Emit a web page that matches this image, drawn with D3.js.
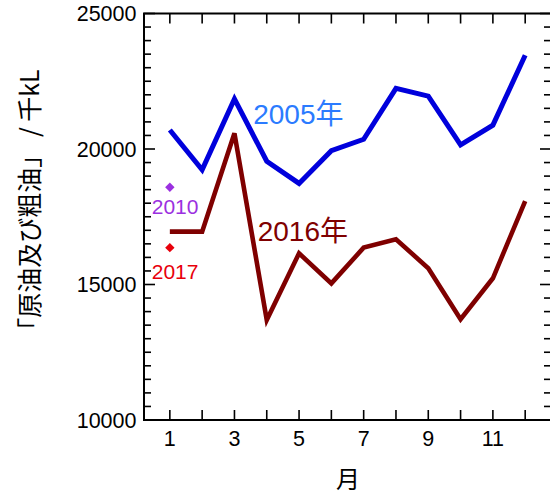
<!DOCTYPE html>
<html>
<head>
<meta charset="utf-8">
<script src="https://cdn.jsdelivr.net/npm/d3@7"></script>
<style>
  html, body { margin: 0; padding: 0; background: #fff; }
  svg { display: block; }
  text { font-family: "Liberation Sans", Arial, "Noto Sans CJK JP", sans-serif; }
</style>
</head>
<body>
<svg id="chart" width="550" height="495"></svg>
<script>
// Monthly crude oil volumes (thousand kL)
const months = [1, 2, 3, 4, 5, 6, 7, 8, 9, 10, 11, 12];
const values2005 = [20700, 19230, 21850, 19550, 18730, 19940, 20360, 22240, 21950, 20150, 20880, 23460];
const values2016 = [16950, 16950, 20580, 13690, 16150, 15040, 16360, 16670, 15600, 13720, 15230, 18080];
// Single January points for other years
const singleYears = ["2010", "2017"];
const singleValues = [18590, 16360];
const xTickLabels = [1, 3, 5, 7, 9, 11];
const yTickLabels = [10000, 15000, 20000, 25000];

const svg = d3.select("#chart");
const plotLeft = 144, plotRight = 552, plotTop = 13.5, plotBottom = 420;

const x = d3.scaleLinear().domain([0.2, 12.83]).range([plotLeft, plotRight]);
const y = d3.scaleLinear().domain([10000, 25000]).range([plotBottom, plotTop]);

const fontTick = "21.5px";

// Frame
svg.append("rect")
  .attr("x", plotLeft).attr("y", plotTop)
  .attr("width", plotRight - plotLeft).attr("height", plotBottom - plotTop)
  .attr("fill", "none").attr("stroke", "#000").attr("stroke-width", 2);

// Inward ticks
const tickG = svg.append("g").attr("stroke", "#000").attr("stroke-width", 1.6);
const minorY = d3.range(10000, 25001, 500);
minorY.forEach(v => {
  const major = v % 5000 === 0;
  const len = major ? 11 : 7;
  tickG.append("line").attr("x1", plotLeft).attr("x2", plotLeft + len).attr("y1", y(v)).attr("y2", y(v));
  tickG.append("line").attr("x1", plotRight).attr("x2", plotRight - len - 1).attr("y1", y(v)).attr("y2", y(v));
});
months.forEach(m => {
  tickG.append("line").attr("x1", x(m)).attr("x2", x(m)).attr("y1", plotTop).attr("y2", plotTop + 10);
  tickG.append("line").attr("x1", x(m)).attr("x2", x(m)).attr("y1", plotBottom).attr("y2", plotBottom - 10);
});

// Tick labels
svg.append("g").selectAll("text").data(yTickLabels).join("text")
  .attr("x", plotLeft - 7.5).attr("y", d => y(d))
  .attr("dy", "0.36em")
  .attr("text-anchor", "end")
  .attr("font-size", fontTick)
  .text(d => d);

svg.append("g").selectAll("text").data(xTickLabels).join("text")
  .attr("x", d => x(d)).attr("y", 446)
  .attr("text-anchor", "middle")
  .attr("font-size", fontTick)
  .text(d => d);

// Axis titles
svg.append("text")
  .attr("transform", `translate(28, 206) rotate(-90)`)
  .attr("text-anchor", "middle")
  .attr("dominant-baseline", "central")
  .attr("font-size", "25px")
  .style("font-family", "'Noto Sans CJK JP', sans-serif")
  .text("「原油及び粗油」 / 千kL");

svg.append("text")
  .attr("x", 348).attr("y", 488)
  .attr("text-anchor", "middle")
  .attr("font-size", "24px")
  .style("font-family", "'Noto Sans CJK JP', sans-serif")
  .text("月");

// Lines
const line = d3.line().x((d, i) => x(months[i])).y(d => y(d));

svg.append("path").datum(values2005)
  .attr("d", line)
  .attr("fill", "none").attr("stroke", "#0000dc").attr("stroke-width", 5);

svg.append("path").datum(values2016)
  .attr("d", line)
  .attr("fill", "none").attr("stroke", "#7f0000").attr("stroke-width", 4.6);

// Series labels
svg.append("text")
  .attr("x", x(3.58)).attr("y", y(20910))
  .attr("font-size", "28px").attr("fill", "#2b7bff")
  .text("2005年");

svg.append("text")
  .attr("x", x(3.72)).attr("y", y(16620))
  .attr("font-size", "28px").attr("fill", "#7f0000")
  .text("2016年");

// Single-year markers
const singleColors = ["#9b30e0", "#e8000b"];
const diamond = d3.symbol().type(d3.symbolSquare).size(44);
singleValues.forEach((v, i) => {
  svg.append("path")
    .attr("d", diamond)
    .attr("transform", `translate(${x(1)},${y(v)}) rotate(45)`)
    .attr("fill", singleColors[i]);
});
const labelValues = [17610, 15210];
singleYears.forEach((t, i) => {
  svg.append("text")
    .attr("x", x(0.44)).attr("y", y(labelValues[i]))
    .attr("font-size", "21px").attr("fill", singleColors[i])
    .text(t);
});
</script>
</body>
</html>
